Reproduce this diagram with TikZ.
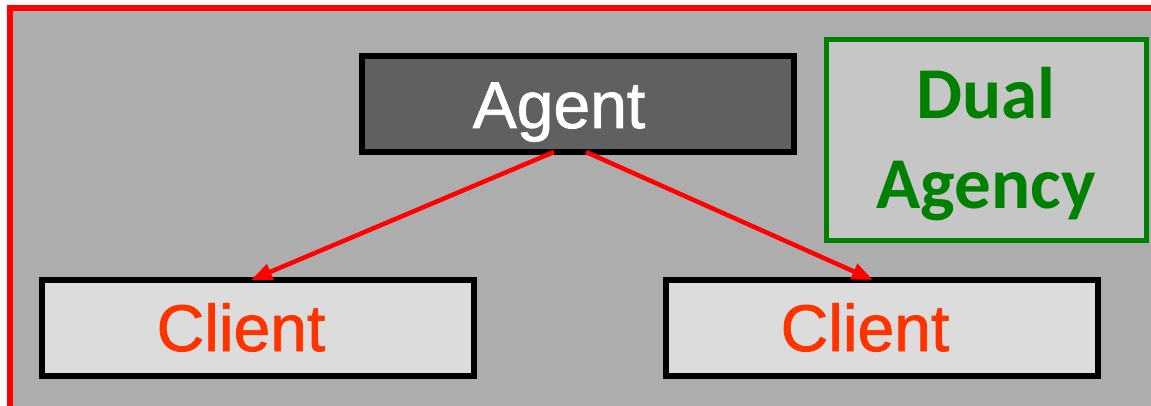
\documentclass[tikz,border=0pt]{standalone}
\usepackage{fontspec}
\setmainfont{Liberation Sans}
\newfontfamily\heavysans[FakeBold=1.2]{Liberation Sans}
\newfontfamily\calfont{Carlito}
\usetikzlibrary{arrows.meta}

\definecolor{framered}{HTML}{FF0000}
\definecolor{panelgray}{HTML}{ADADAD}
\definecolor{agentgray}{HTML}{606060}
\definecolor{clientgray}{HTML}{DCDCDC}
\definecolor{dualgray}{HTML}{C6C6C6}
\definecolor{clientred}{HTML}{FF3300}
\definecolor{dualgreen}{HTML}{008000}

\tikzset{
  box/.style={draw=black, line width=5.3pt, outer sep=0pt, inner sep=0pt,
              minimum width=432pt, minimum height=96pt},
  bigtext/.style={anchor=base, inner sep=0pt, font=\heavysans\fontsize{66}{78}\selectfont},
  dualtext/.style={anchor=base, inner sep=0pt, text=dualgreen,
              font=\calfont\bfseries\fontsize{73}{88}\selectfont},
  link/.style={draw=framered, line width=4.5pt,
              -{Triangle[length=21pt,width=16pt]}}
}

\begin{document}
\begin{tikzpicture}[x=1pt,y=-1pt]
  \useasboundingbox (0,0) rectangle (1151,406);
  \clip (0,0) rectangle (1151,406);

  % outer panel with red frame
  \draw[line width=5.5pt, draw=framered, fill=panelgray] (10,8) rectangle (1175,408.5);

  % boxes
  \node[box, fill=agentgray] (agent) at (578,104) {};
  \node[box, fill=clientgray] (clientL) at (258,328) {};
  \node[box, fill=clientgray] (clientR) at (882,328) {};
  \node[draw=dualgreen, fill=dualgray, line width=5pt, outer sep=0pt,
        minimum width=320pt, minimum height=201pt] (dual) at (986,140.3) {};

  % labels
  \node[bigtext, text=white] (agentlbl) at (559,128) {Agent};
  \node[bigtext, text=clientred] (clientLlbl) at (241,351) {Client};
  \node[bigtext, text=clientred] (clientRlbl) at (865,351) {Client};
  \node[dualtext] (duallbl1) at (986,119) {Dual};
  \node[dualtext] (duallbl2) at (986,208) {Agency};

  % connectors
  \draw[link] ([xshift=-24pt]agent.south) -- ([xshift=-7pt]clientL.north);
  \draw[link] ([xshift=8pt]agent.south) -- ([xshift=-9pt]clientR.north);
\end{tikzpicture}
\end{document}
